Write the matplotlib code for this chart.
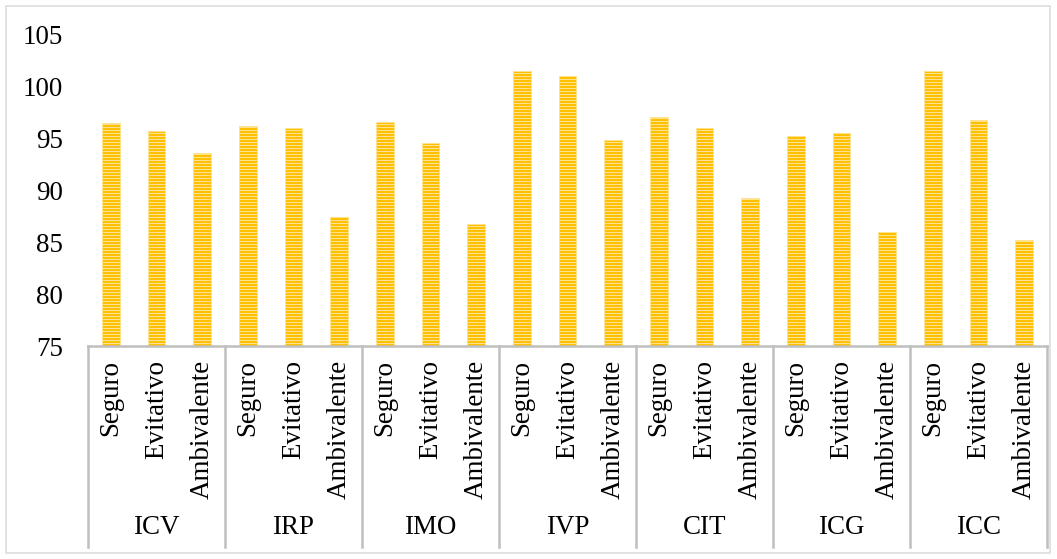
import matplotlib
matplotlib.use("Agg")
import matplotlib.pyplot as plt
import matplotlib.transforms as mtransforms
import numpy as np
from matplotlib.patches import Rectangle

DPI = 108
W, H = 1057, 559


def pt(px):
    # pixel size -> points at the chosen dpi
    return px * 72 / DPI


plt.rcParams['font.family'] = ['Liberation Serif', 'DejaVu Serif']
plt.rcParams['hatch.linewidth'] = pt(1.0)

# data
groups = ["ICV", "IRP", "IMO", "IVP", "CIT", "ICG", "ICC"]
styles = ["Seguro", "Evitativo", "Ambivalente"]
seguro = [96.4, 96.2, 96.5, 101.4, 97.0, 95.2, 101.4]
evitativo = [95.7, 96.0, 94.5, 101.0, 96.0, 95.5, 96.7]
ambivalente = [93.6, 87.4, 86.7, 94.8, 89.2, 86.0, 85.2]

values = []
labels = []
for s, e, a in zip(seguro, evitativo, ambivalente):
    values += [s, e, a]
    labels += styles
x = np.arange(len(values))

fig = plt.figure(figsize=(W / DPI, H / DPI), dpi=DPI)
ax = fig.add_axes([88/W, 1 - 346/H, (1047-88)/W, (346-34)/H])

# outer chart border
fig.patches.append(Rectangle((6/W, 6/H), 1044/W, 547/H,
                             transform=fig.transFigure, fill=False,
                             edgecolor='#D9D9D9', linewidth=pt(1.5)))

ax.bar(x, np.array(values) - 75, bottom=75, width=0.38, color='#FFC000',
       edgecolor='#FFE28F', linewidth=pt(1.0), hatch='------')

fs = pt(27)
ax.set_ylim(75, 105)
ax.set_xlim(-0.5, len(values) - 0.5)
ax.set_yticks(np.arange(75, 106, 5))
ax.tick_params(axis='y', length=0, labelsize=fs, pad=pt(25))
ax.tick_params(axis='x', length=0, labelsize=fs, pad=pt(14))
ax.set_xticks(x)
ax.set_xticklabels(labels, rotation=90, va='top')

for sp in ['top', 'right', 'left']:
    ax.spines[sp].set_visible(False)
ax.spines['bottom'].set_color('#BFBFBF')
ax.spines['bottom'].set_linewidth(pt(2.5))

# group separators and group labels below the axis
trans = mtransforms.blended_transform_factory(ax.transData, ax.transAxes)
y_low = (346 - 547) / 312
for i in range(len(groups) + 1):
    ax.plot([i*3 - 0.5, i*3 - 0.5], [0, y_low], transform=trans,
            color='#BFBFBF', linewidth=pt(2.5), clip_on=False)
for i, g in enumerate(groups):
    ax.text(i*3 + 1, (346 - 528) / 312, g, transform=trans,
            ha='center', va='center', fontsize=fs)

fig.savefig("out.png", dpi=DPI)
